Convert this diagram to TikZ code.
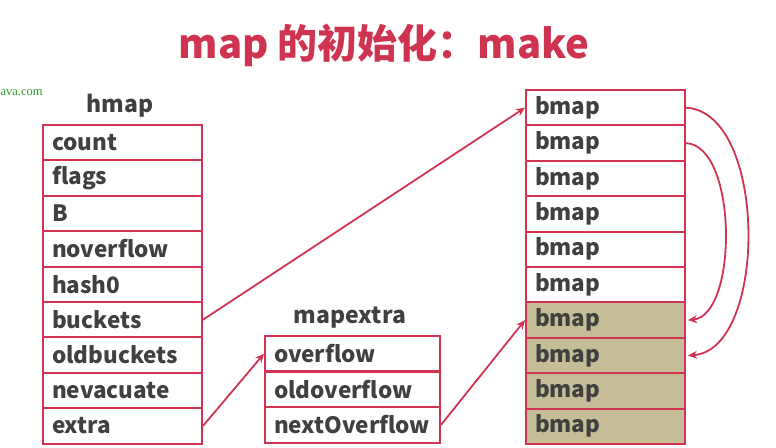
\documentclass[tikz,border=0pt]{standalone}
\usepackage{fontspec}
\setmainfont{Noto Sans CJK SC}
\newfontfamily\wmfont{Liberation Serif}
\usetikzlibrary{arrows.meta}
\definecolor{linered}{RGB}{208,52,82}
\definecolor{titlered}{RGB}{206,52,80}
\definecolor{txt}{RGB}{64,64,64}
\definecolor{tan}{RGB}{197,188,152}
\definecolor{wmgreen}{RGB}{40,150,40}
\tikzset{
  cell/.style={draw=linered, line width=2pt, rectangle, anchor=north west,
    minimum height=35.4pt, inner xsep=9pt, inner ysep=0pt, align=left,
    text=txt, font=\bfseries\fontsize{22.5}{22.5}\selectfont},
  hcell/.style={cell, text width=141pt},
  mcell/.style={cell, text width=157pt},
  bcell/.style={cell, text width=141pt},
  shaded/.style={fill=tan},
  head/.style={text=txt, font=\bfseries\fontsize{23}{23}\selectfont},
  link/.style={draw=linered, line width=1.8pt, -{Stealth[length=9pt,width=8pt]}}
}
\begin{document}
\begin{tikzpicture}[x=1pt,y=-1pt]
\useasboundingbox (0,0) rectangle (776,447);
\node[text=titlered, font=\bfseries\fontsize{40}{40}\selectfont] (title) at (384,45) {map 的初始化：make};
\node[anchor=west, text=wmgreen, font=\wmfont\fontsize{12.5}{12.5}\selectfont] (wm) at (-3,93) {ava.com};
\node[head] (hlabel) at (120,106) {hmap};
\foreach \i/\t in {1/count,2/flags,3/B,4/noverflow,5/hash0,6/buckets,7/oldbuckets,8/nevacuate,9/extra}{
  \node[hcell] (h\i) at (42,{124+35.4*(\i-1)}) {\t};
}
\node[head] (mlabel) at (350,318) {mapextra};
\foreach \i/\t in {1/overflow,2/oldoverflow,3/nextOverflow}{
  \node[mcell] (m\i) at (264,{335+35.6*(\i-1)}) {\t};
}
\foreach \i in {1,...,6}{
  \node[bcell] (b\i) at (525,{89+35.4*(\i-1)}) {bmap};
}
\foreach \i in {7,...,10}{
  \node[bcell, shaded] (b\i) at (525,{89+35.4*(\i-1)}) {bmap};
}
\draw[link] (h6.east) -- (b1.west);
\draw[link] (h9.east) -- (m1.west);
\draw[link] (m3.east) -- (b7.west);
\draw[link] (b1.east) .. controls (768,112) and (768,350) .. ([xshift=2pt]b8.east);
\draw[link] (b2.east) .. controls (738,146) and (738,315) .. ([xshift=2pt]b7.east);
\end{tikzpicture}
\end{document}
